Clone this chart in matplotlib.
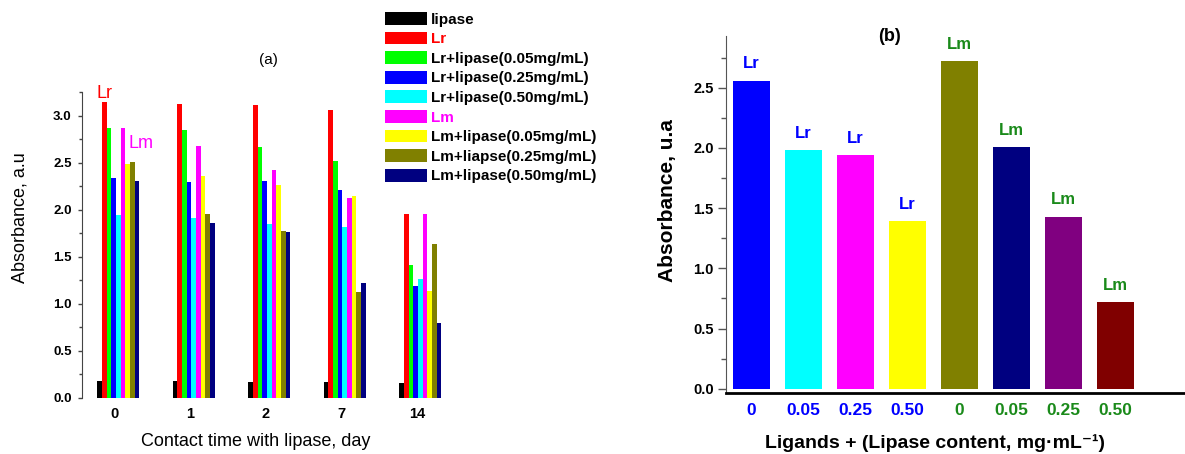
import matplotlib
matplotlib.use('Agg')
import matplotlib.pyplot as plt
import numpy as np
from matplotlib.ticker import MultipleLocator

plt.rcParams['font.family'] = ['Liberation Sans', 'DejaVu Sans']

# ---- panel (a) data ----
dias = ['0', '1', '2', '7', '14']
series_a = ['lipase', 'Lr', 'Lr+lipase(0.05mg/mL)', 'Lr+lipase(0.25mg/mL)',
            'Lr+lipase(0.50mg/mL)', 'Lm', 'Lm+lipase(0.05mg/mL)',
            'Lm+liapse(0.25mg/mL)', 'Lm+lipase(0.50mg/mL)']
colores_a = ['#000000', '#ff0000', '#00ff00', '#0000ff', '#00ffff',
             '#ff00ff', '#ffff00', '#808000', '#000080']
lipasa = [0.18, 0.18, 0.17, 0.17, 0.16]
lr = [3.15, 3.13, 3.12, 3.06, 1.96]
lr_005 = [2.87, 2.85, 2.67, 2.52, 1.41]
lr_025 = [2.34, 2.30, 2.31, 2.21, 1.19]
lr_050 = [1.94, 1.91, 1.85, 1.82, 1.26]
lm = [2.87, 2.68, 2.42, 2.13, 1.96]
lm_005 = [2.49, 2.36, 2.26, 2.15, 1.14]
lm_025 = [2.51, 1.95, 1.77, 1.13, 1.64]
lm_050 = [2.31, 1.86, 1.76, 1.22, 0.79]
valores_a = [lipasa, lr, lr_005, lr_025, lr_050, lm, lm_005, lm_025, lm_050]

# ---- panel (b) data ----
etiq_b = ['0', '0.05', '0.25', '0.50', '0', '0.05', '0.25', '0.50']
ligando_b = ['Lr', 'Lr', 'Lr', 'Lr', 'Lm', 'Lm', 'Lm', 'Lm']
valores_b = [2.56, 1.98, 1.94, 1.39, 2.72, 2.01, 1.43, 0.72]
colores_b = ['#0000ff', '#00ffff', '#ff00ff', '#ffff00',
             '#808000', '#000080', '#800080', '#800000']
verde = '#1a8a1a'
color_lig = {'Lr': '#0000ff', 'Lm': verde}

fig = plt.figure(figsize=(11.85, 4.54), dpi=100)

# ================= (a) =================
ax1 = fig.add_axes([82/1185, 1-397.7/454, 383.5/1185, 305.4/454])
x = np.arange(len(dias))
ancho = 0.0618
n = len(series_a)
for k in range(n):
    ax1.bar(x + (k - 4)*ancho, valores_a[k], ancho, color=colores_a[k],
            label=series_a[k], linewidth=0)

ax1.set_xlim(-0.48, 4.6)
ax1.set_ylim(0, 3.25)
for s in ['top', 'right', 'bottom']:
    ax1.spines[s].set_visible(False)
ax1.spines['left'].set_color('#444444')
ax1.set_yticks(np.arange(0, 3.01, 0.5))
ax1.set_yticklabels(['%.1f' % v for v in np.arange(0, 3.01, 0.5)])
ax1.yaxis.set_minor_locator(MultipleLocator(0.25))
ax1.tick_params(axis='y', which='major', length=3, width=1, color='#444444',
                labelsize=9.5, pad=4.5)
ax1.tick_params(axis='y', which='minor', length=2, width=1, color='#444444')
ax1.set_xticks(x - 0.045)
ax1.set_xticklabels(dias)
ax1.tick_params(axis='x', length=0, labelsize=10.5, pad=7)
for t in ax1.get_xticklabels() + ax1.get_yticklabels():
    t.set_fontweight('bold')

ax1.set_ylabel('Absorbance, a.u', fontsize=13, va='center')
ax1.yaxis.set_label_coords(-0.162, 0.59)
ax1.set_xlabel('Contact time with lipase, day', fontsize=13, va='center')
ax1.xaxis.set_label_coords(0.454, -0.145)
ax1.text(0.485, 1.106, '(a)', transform=ax1.transAxes, ha='center',
         va='center', fontsize=11)

# etiquetas Lr / Lm sobre el grupo 0
ax1.text(x[0] + (1 - 4)*ancho, lr[0] + 0.09, 'Lr', color='#ff0000',
         fontsize=13, ha='center', va='center', clip_on=False)
ax1.text(x[0] + (5 - 4)*ancho + 0.24, lm[0] - 0.16, 'Lm', color='#ff00ff',
         fontsize=13, ha='center', va='center')

leg = ax1.legend(loc='upper left', bbox_to_anchor=(385/1185, 1-12/454),
                 bbox_transform=fig.transFigure, frameon=False,
                 prop={'weight': 'bold', 'size': 11}, handlelength=2.75,
                 handleheight=0.92, labelspacing=0.32, handletextpad=0.25,
                 borderpad=0, borderaxespad=0)
for t in leg.get_texts():
    if t.get_text() == 'Lr':
        t.set_color('#ff0000')
    elif t.get_text() == 'Lm':
        t.set_color('#ff00ff')

# ================= (b) =================
ax2 = fig.add_axes([726/1185, 1-393/454, 459/1185, 357/454])
xb = np.arange(len(valores_b))
barras = ax2.bar(xb, valores_b, 0.71, color=colores_b, linewidth=0)
for i, b in enumerate(barras):
    ax2.annotate(ligando_b[i], (b.get_x() + b.get_width()/2, valores_b[i]),
                 xytext=(0, 12), textcoords='offset points', ha='center',
                 va='center', fontsize=12, fontweight='bold',
                 color=color_lig[ligando_b[i]])

ax2.set_xlim(-0.486, 8.33)
ax2.set_ylim(-0.035, 2.93)
for s in ['top', 'right']:
    ax2.spines[s].set_visible(False)
ax2.spines['left'].set_color('#555555')
ax2.spines['bottom'].set_linewidth(2)
ax2.set_yticks(np.arange(0, 2.51, 0.5))
ax2.set_yticklabels(['%.1f' % v for v in np.arange(0, 2.51, 0.5)])
ax2.yaxis.set_minor_locator(MultipleLocator(0.25))
ax2.tick_params(axis='y', which='major', length=5.5, width=1, color='#555555',
                labelsize=10.5)
ax2.tick_params(axis='y', which='minor', length=3.5, width=1, color='#555555')
ax2.set_xticks(xb)
ax2.set_xticklabels(etiq_b)
ax2.tick_params(axis='x', length=0, labelsize=12.5, pad=7)
for t in ax2.get_yticklabels():
    t.set_fontweight('bold')
for i, t in enumerate(ax2.get_xticklabels()):
    t.set_fontweight('bold')
    t.set_color(color_lig[ligando_b[i]])

ax2.set_ylabel('Absorbance, u.a', fontsize=15, fontweight='bold', va='center')
ax2.yaxis.set_label_coords(-0.1285, 0.54)
ax2.set_xlabel('Ligands + (Lipase content, mg\u00b7mL\u207b\u00b9)',
               fontsize=14, fontweight='bold', va='center')
ax2.xaxis.set_label_coords(0.455, -0.14)
ax2.text(0.357, 0.998, '(b)', transform=ax2.transAxes, ha='center',
         va='center', fontsize=13, fontweight='bold')

fig.savefig('out.png', dpi=100)
